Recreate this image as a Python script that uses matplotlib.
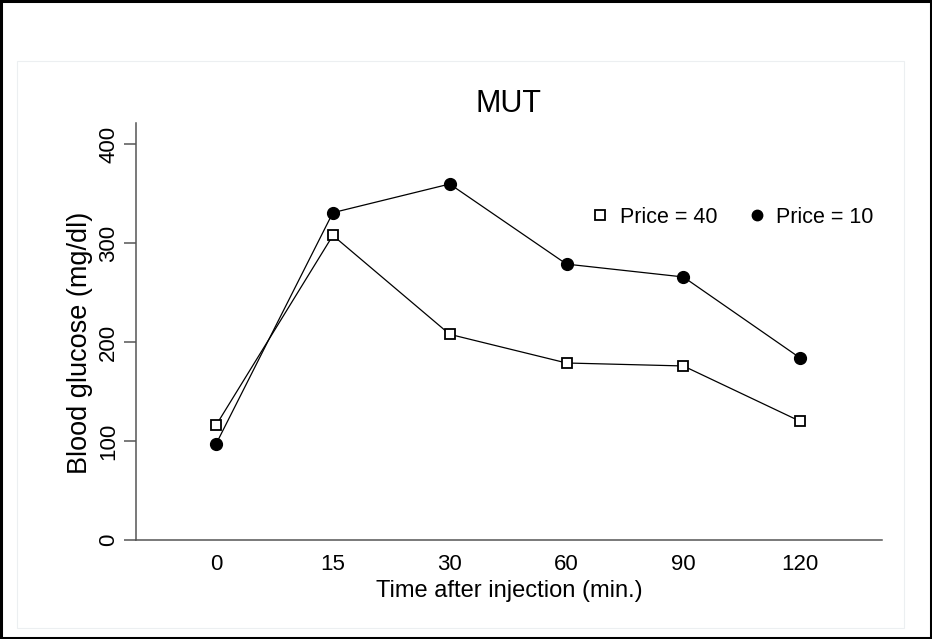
import matplotlib
matplotlib.use("Agg")
import matplotlib.pyplot as plt
from matplotlib.lines import Line2D
from matplotlib.patches import Rectangle

plt.rcParams['font.family'] = ['Liberation Sans', 'DejaVu Sans']

# glucose readings at each time point
tiempos = ["0", "15", "30", "60", "90", "120"]
precio_40 = [116, 308, 208, 179, 176, 120]
precio_10 = [97, 331, 360, 279, 266, 184]

fig = plt.figure(figsize=(9.32, 6.39), dpi=100)

# outer black frame and faint inner panel
fig.patches.append(Rectangle((0.0015, 0.002), 0.997, 0.996, transform=fig.transFigure,
                             fill=False, edgecolor="black", linewidth=2.2))
fig.patches.append(Rectangle((17 / 932, 1 - 628 / 639), (904 - 17) / 932, (628 - 61) / 639,
                             transform=fig.transFigure, fill=False,
                             edgecolor="#eceff1", linewidth=0.8))

ax = fig.add_axes([136 / 932, 99 / 639, 746 / 932, (540 - 122.7) / 639])
x = list(range(len(tiempos)))

ax.plot(x, precio_40, color="black", linewidth=0.9, marker="s", markersize=7.5,
        markerfacecolor="white", markeredgecolor="black", markeredgewidth=1.3)
ax.plot(x, precio_10, color="black", linewidth=0.9, marker="o", markersize=8.5,
        markerfacecolor="black", markeredgecolor="black")

ax.set_xlim(-0.685, 5.70)
ax.set_ylim(0, 422)
ax.set_xticks(x)
ax.set_xticklabels(tiempos)
ax.set_yticks([0, 100, 200, 300, 400])
ax.tick_params(axis="x", length=0, pad=10, labelsize=16)
ax.tick_params(axis="y", length=9, width=1.1, color="#555555", pad=3, labelsize=16)
for lab in ax.get_yticklabels():
    lab.set_rotation(90)
    lab.set_va("center")

for lado in ["top", "right"]:
    ax.spines[lado].set_visible(False)
for lado in ["left", "bottom"]:
    ax.spines[lado].set_color("#555555")
    ax.spines[lado].set_linewidth(1.1)

ax.set_title("MUT", fontsize=22, pad=8)
ax.set_xlabel("Time after injection (min.)", fontsize=17)
ax.xaxis.set_label_coords(0.5, -0.096)
ax.set_ylabel("Blood glucose (mg/dl)", fontsize=19.5)
ax.yaxis.set_label_coords(-0.057, 0.472)

handles = [
    Line2D([], [], linestyle="none", marker="s", markersize=6.5, markerfacecolor="white",
           markeredgecolor="black", markeredgewidth=1.3, label="Price = 40"),
    Line2D([], [], linestyle="none", marker="o", markersize=7.5, markerfacecolor="black",
           markeredgecolor="black", label="Price = 10"),
]
ax.legend(handles=handles, ncol=2, frameon=False, fontsize=15.5, loc="center left",
          bbox_to_anchor=(0.608, 0.774), borderpad=0, borderaxespad=0,
          handlelength=1.0, handletextpad=0.4, columnspacing=1.35)

fig.savefig("out.png", dpi=100)
